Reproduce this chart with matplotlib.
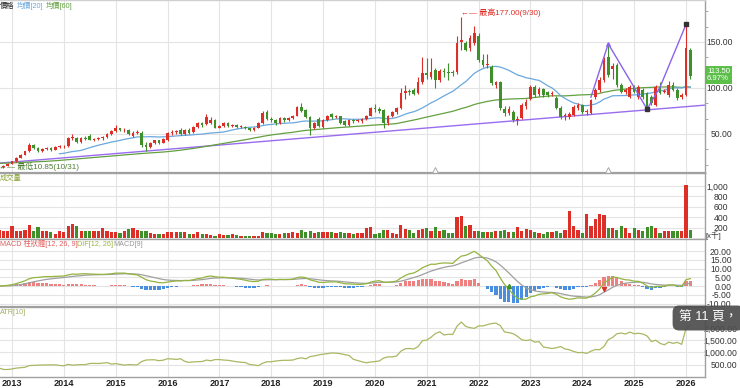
import numpy as np
import pandas as pd
import matplotlib
matplotlib.use('Agg')
import matplotlib.pyplot as plt
from matplotlib.ticker import MultipleLocator

plt.rcParams['font.family'] = ['Liberation Sans Narrow', 'Liberation Sans', 'Noto Sans CJK TC', 'DejaVu Sans']

# =========================
# Data (monthly, Oct 2012 .. Feb 2026); x = months since Jan 2013
# =========================
first_month = -3

opens = [12.0, 14.0, 15.5,
         17.5, 20.5, 24.0, 27.5, 31.0, 38.0, 35.0, 31.0, 34.0, 34.5, 33.0, 36.0,
         36.5, 37.0, 45.5, 46.0, 41.0, 46.0, 48.0, 44.0, 45.0, 46.0, 47.0, 50.0,
         53.0, 56.0, 54.0, 54.5, 48.0, 51.5, 51.0, 38.5, 36.0, 40.0, 43.0, 40.5,
         44.0, 51.0, 52.0, 54.0, 50.0, 54.0, 52.0, 58.0, 62.0, 61.0, 62.0, 65.0,
         57.0, 58.5, 62.0, 59.0, 60.0, 57.5, 58.0, 56.0, 54.0, 57.0, 62.0, 74.0,
         66.0, 65.0, 62.0, 67.0, 65.0, 67.0, 70.0, 79.0, 76.0, 68.0, 57.0, 66.0,
         58.0, 65.0, 72.0, 68.0, 69.0, 64.0, 60.0, 65.0, 64.0, 64.0, 66.0, 70.0,
         78.0, 77.0, 76.0, 62.0, 70.0, 74.0, 78.0, 95.0, 97.0, 98.0, 94.0, 106.0,
         116.0, 112.0, 119.0, 109.0, 118.0, 117.0, 117.0, 117.0, 150.0, 149.0, 143.0, 149.0,
         157.0, 130.0, 125.0, 123.0, 103.0, 106.0, 77.0, 73.0, 74.0, 65.0, 67.0, 80.0,
         88.0, 101.0, 93.0, 99.0, 96.0, 93.0, 89.0, 78.0, 69.0, 68.0, 71.0, 78.0,
         82.0, 74.0, 73.0, 90.0, 98.0, 109.0, 134.0, 121.0, 125.0, 103.0, 96.0, 90.0,
         101.0, 90.0, 98.0, 94.0, 90.0, 82.0, 101.0, 96.0, 92.0, 103.0, 98.0, 90.0,
         92.0, 141.0]
highs = [14.5, 16.0, 18.0,
         21.0, 25.0, 28.0, 32.0, 40.0, 39.0, 36.0, 34.5, 35.5, 35.5, 36.5, 37.5,
         38.0, 47.0, 50.0, 47.0, 47.0, 47.5, 50.0, 46.0, 47.0, 48.0, 51.0, 54.0,
         60.0, 57.0, 56.0, 55.0, 53.0, 54.0, 53.0, 41.0, 41.0, 44.0, 44.0, 46.0,
         52.0, 54.0, 54.0, 56.0, 55.0, 56.0, 59.0, 63.0, 63.0, 72.0, 68.0, 66.0,
         60.0, 63.0, 63.0, 61.0, 61.0, 60.0, 59.0, 57.0, 58.0, 63.0, 75.0, 76.0,
         68.0, 66.0, 68.0, 68.0, 68.0, 71.0, 80.0, 84.0, 77.0, 69.0, 63.0, 68.0,
         66.0, 71.0, 73.0, 71.0, 70.0, 65.0, 66.0, 66.0, 66.0, 67.0, 71.0, 79.0,
         83.0, 79.0, 77.0, 71.0, 75.0, 79.0, 100.0, 103.0, 99.0, 100.0, 112.0, 134.0,
         133.0, 133.0, 122.0, 121.0, 122.0, 127.0, 119.0, 157.0, 177.0, 151.0, 158.0, 167.0,
         160.0, 137.0, 137.0, 125.0, 108.0, 108.0, 80.0, 80.0, 76.0, 69.0, 84.0, 88.0,
         103.0, 103.0, 101.0, 100.0, 97.0, 97.0, 91.0, 80.0, 73.0, 74.0, 81.0, 84.0,
         83.0, 77.0, 88.0, 100.0, 112.0, 134.0, 148.0, 127.0, 127.0, 105.0, 100.0, 103.0,
         103.0, 103.0, 100.0, 96.0, 92.0, 103.0, 106.0, 99.0, 108.0, 106.0, 100.0, 95.0,
         169.0, 143.0]
lows = [10.85, 13.5, 15.0,
        17.0, 20.0, 23.5, 27.0, 30.5, 33.5, 30.0, 30.5, 33.0, 32.0, 32.5, 35.0,
        35.0, 36.0, 44.0, 40.0, 40.0, 43.5, 43.0, 42.0, 43.5, 44.0, 46.0, 49.0,
        52.0, 53.0, 52.0, 49.0, 47.0, 50.0, 36.0, 31.0, 35.0, 39.0, 39.5, 40.0,
        42.0, 49.0, 50.0, 49.0, 49.0, 50.0, 51.0, 57.0, 58.0, 60.0, 61.0, 56.0,
        56.0, 58.0, 58.0, 58.0, 56.0, 56.0, 55.0, 53.0, 53.0, 56.0, 61.0, 65.0,
        63.0, 60.0, 61.0, 63.0, 64.0, 66.0, 69.0, 74.0, 67.0, 49.0, 55.0, 58.0,
        56.0, 64.0, 66.0, 67.0, 61.0, 59.0, 59.0, 62.0, 63.0, 62.0, 65.0, 69.0,
        74.0, 73.0, 56.0, 60.0, 68.0, 72.0, 77.0, 88.0, 92.0, 92.0, 93.0, 104.0,
        110.0, 110.0, 100.0, 107.0, 112.0, 109.0, 113.0, 115.0, 141.0, 140.0, 140.0, 147.0,
        128.0, 123.0, 122.0, 103.0, 100.0, 76.0, 70.0, 71.0, 63.0, 60.0, 66.0, 77.0,
        87.0, 90.0, 91.0, 90.0, 90.0, 91.0, 77.0, 66.0, 65.0, 66.0, 70.0, 76.0,
        72.0, 71.0, 72.0, 88.0, 96.0, 107.0, 112.0, 110.0, 101.0, 94.0, 93.0, 89.0,
        94.0, 88.0, 88.0, 77.0, 82.0, 80.0, 93.0, 94.0, 90.0, 97.0, 87.0, 88.0,
        91.0, 110.0]
closes = [14.0, 15.5, 17.5,
          20.5, 24.0, 27.5, 31.0, 38.0, 35.0, 31.0, 34.0, 34.5, 33.0, 36.0, 36.5,
          37.0, 45.5, 46.0, 41.0, 46.0, 45.0, 44.0, 45.0, 46.0, 47.0, 50.0, 53.0,
          56.0, 54.0, 54.5, 50.5, 51.5, 52.0, 38.5, 36.0, 40.0, 43.0, 40.5, 45.0,
          51.0, 52.0, 52.5, 50.0, 54.0, 51.0, 58.0, 62.0, 60.0, 68.0, 65.0, 57.0,
          58.5, 62.0, 59.0, 60.0, 57.5, 58.0, 56.0, 54.0, 57.0, 62.0, 73.0, 66.0,
          65.0, 62.0, 67.0, 65.0, 67.0, 70.0, 79.0, 75.0, 68.0, 57.0, 62.0, 59.0,
          65.0, 70.0, 68.0, 69.0, 62.0, 60.0, 65.0, 64.0, 64.5, 66.0, 70.0, 78.0,
          77.0, 75.0, 62.0, 70.0, 74.0, 78.0, 95.0, 97.0, 96.0, 93.0, 106.0, 116.0,
          114.0, 117.0, 109.0, 118.0, 117.0, 116.5, 116.0, 149.0, 152.0, 141.0, 154.0, 160.0,
          130.0, 125.0, 125.5, 105.0, 106.0, 78.0, 73.0, 77.0, 65.0, 66.0, 81.0, 85.0,
          101.0, 92.0, 99.0, 92.0, 92.0, 94.0, 78.0, 68.0, 71.0, 72.0, 79.0, 82.0,
          74.0, 74.5, 87.0, 98.0, 109.0, 130.0, 114.0, 124.0, 103.0, 96.0, 98.0, 101.0,
          96.0, 101.0, 90.0, 79.0, 84.0, 101.0, 95.0, 96.5, 103.0, 98.0, 89.0, 92.0,
          143.0, 113.5]
volumes = [160, 141, 141,
           237, 128, 141, 160, 256, 141, 211, 128, 128, 109, 77, 128,
           109, 224, 275, 237, 141, 128, 128, 141, 141, 192, 128, 109,
           109, 96, 141, 173, 192, 160, 141, 128, 96, 77, 77, 77,
           109, 109, 109, 109, 109, 77, 77, 109, 77, 77, 64, 45,
           77, 64, 64, 77, 64, 45, 45, 45, 45, 45, 122, 96,
           96, 77, 77, 96, 96, 122, 96, 147, 109, 134, 96, 109,
           122, 122, 122, 96, 122, 96, 96, 77, 96, 96, 192, 210,
           83, 96, 159, 147, 96, 76, 255, 172, 147, 96, 147, 172,
           191, 127, 210, 127, 159, 96, 96, 395, 414, 236, 248, 127,
           127, 108, 108, 108, 127, 127, 159, 121, 121, 210, 127, 172,
           159, 121, 96, 83, 108, 121, 134, 96, 147, 510, 236, 147,
           96, 459, 223, 369, 459, 446, 191, 191, 147, 223, 191, 96,
           185, 147, 134, 210, 236, 191, 96, 127, 134, 140, 134, 127,
           1019, 159]
# MA60 before a full 60-month window exists
ma60_early = [18.0, 18.2, 18.3,
              18.5, 18.7, 18.9, 19.1, 19.3, 19.6, 19.8, 20.0, 20.3, 20.6, 20.9, 21.3,
              21.7, 22.1, 22.5, 22.9, 23.3, 23.7, 24.1, 24.5, 24.9, 25.3, 25.7, 26.1,
              26.6, 27.0, 27.4, 27.8, 28.2, 28.5, 28.8, 29.1, 29.4, 29.7, 30.0, 30.4,
              30.8, 31.3, 31.8, 32.4, 33.0, 33.6, 34.3, 35.0, 35.8, 36.6, 37.4, 38.2,
              39.0, 39.8, 40.6, 41.4, 42.2, 43.0, 43.8, 44.6]

years = list(range(2013, 2027))
year_labels = [str(y) for y in years]

trend_x = [-3, 161]
trend_y = [18.3, 81.6]
zigzag_x = [134, 138, 147, 150, 156]
zigzag_y = [90.0, 148.0, 77.0, 101.0, 169.0]
event_months = [98, 138]
cross_months = [115, 137]
cross_values = [0.0, -1.9]

# =========================
# Style
# =========================
RED = '#dc2f27'
GREEN = '#3f8f2a'
BLUE_MA = '#6aa8de'
GREEN_MA = '#63a040'
PURPLE = '#9a6cf0'
GRID = '#e4e4e4'
FRAME = '#a0a0a0'

W, H = 740, 388


def box(top, bottom, left=0, right=705):
    return [left / W, 1 - bottom / H, (right - left) / W, (bottom - top) / H]


fig = plt.figure(figsize=(W / 100, H / 100), dpi=100)
ax_p = fig.add_axes(box(0, 173))
ax_v = fig.add_axes(box(173, 239), sharex=ax_p)
ax_m = fig.add_axes(box(239, 307), sharex=ax_p)
ax_a = fig.add_axes(box(307, 377), sharex=ax_p)

n = len(closes)
x = np.arange(n) + first_month
o = np.array(opens)
h = np.array(highs)
l = np.array(lows)
c = np.array(closes)
up = c >= o
bar_colors = np.where(up, RED, GREEN)

# indicators
s = pd.Series(c)
ma20 = s.rolling(20, min_periods=15).mean()
ma60 = s.rolling(60).mean()
ma60.iloc[:len(ma60_early)] = ma60_early
ema12 = s.ewm(span=12, adjust=False).mean()
ema26 = s.ewm(span=26, adjust=False).mean()
dif = ema12 - ema26
sig = dif.ewm(span=9, adjust=False).mean()
hist = dif - sig
prev_c = s.shift(1)
tr = pd.concat([pd.Series(h - l), (pd.Series(h) - prev_c).abs(),
                (pd.Series(l) - prev_c).abs()], axis=1).max(axis=1)
atr = tr.rolling(10, min_periods=1).mean() * 100

# =========================
# Price panel
# =========================
ax_p.plot(trend_x, trend_y, color=PURPLE, lw=1.0, zorder=2)
ax_p.plot(x, ma60, color=GREEN_MA, lw=0.9, zorder=2)
ax_p.plot(x, ma20, color=BLUE_MA, lw=0.9, zorder=2)
ax_p.vlines(x, l, h, colors=bar_colors, lw=0.8, zorder=3)
ax_p.bar(x, np.maximum(np.abs(c - o), 0.8), bottom=np.minimum(o, c), width=0.62,
         color=bar_colors, linewidth=0, zorder=4)
ax_p.plot(zigzag_x, zigzag_y, color='#8a63ee', lw=1.0, zorder=5)
ax_p.plot(zigzag_x[2::2], zigzag_y[2::2], 's', ms=2.6, color='#333333', zorder=6)
ax_p.plot(zigzag_x[1], zigzag_y[1], '^', ms=2.6, color='#8a63ee', zorder=6)
ax_p.plot(event_months, [10.5] * len(event_months), '^', ms=4, mfc='white',
          mec='#aaaaaa', mew=0.7, zorder=6, clip_on=False)

ax_p.text(104, 181.5, '←— 最高177.00(9/30)', color=RED, fontsize=5.8, va='center', ha='left')
ax_p.text(-3, 14.8, '←— 最低10.85(10/31)', color='#4e7d33', fontsize=5.8, va='center',
          ha='left', clip_on=False)

ax_p.set_ylim(7.6, 195.6)
ax_p.set_yticks([50, 100, 150])
ax_p.set_yticklabels(['50.00', '100.00', '150.00'])
ax_p.yaxis.set_minor_locator(MultipleLocator(50 / 3))

# =========================
# Volume panel
# =========================
ax_v.bar(x, volumes, width=0.74, color=bar_colors, linewidth=0)
ax_v.set_ylim(-19, 1250)
ax_v.set_yticks([200, 400, 600, 800, 1000])
ax_v.set_yticklabels(['200', '400', '600', '800', '1,000'])

# =========================
# MACD panel
# =========================
ax_m.bar(x, hist, width=0.75, color=np.where(hist >= 0, '#ef8080', '#4a8edf'), linewidth=0)
ax_m.plot(x, sig, color='#a0a0a0', lw=0.9)
ax_m.plot(x, dif, color='#94b43e', lw=0.9)
ax_m.plot(cross_months[:1], cross_values[:1], '^', ms=3, color='#3f8f2a')
ax_m.plot(cross_months[1:], cross_values[1:], 'v', ms=3, color=RED)
ax_m.set_ylim(-12, 26.9)
ax_m.set_yticks([-10, -5, 0, 5, 10, 15, 20])
ax_m.set_yticklabels(['-10.00', '-5.00', '0.00', '5.00', '10.00', '15.00', '20.00'])

# =========================
# ATR panel
# =========================
ax_a.plot(x, atr, color='#a9b862', lw=0.9)
ax_a.set_ylim(0, 2850)
ax_a.set_yticks([500, 1000, 1500, 2000])
ax_a.set_yticklabels(['500.00', '1,000.00', '1,500.00', '2,000.00'])

# =========================
# Common axes styling
# =========================
year_ticks = [(y - 2013) * 12 for y in years]
pads = {ax_p: 20.0, ax_v: 17.0, ax_m: 19.2, ax_a: 23.5}
for ax in [ax_p, ax_v, ax_m, ax_a]:
    ax.set_xlim(-2.78, 160.4)
    ax.yaxis.tick_right()
    ax.tick_params(axis='y', which='major', length=0, pad=pads[ax], labelsize=6.2,
                   colors='#333333')
    ax.tick_params(axis='y', which='minor', length=2, color='#999999')
    for lab in ax.get_yticklabels():
        lab.set_horizontalalignment('right')
    ax.set_xticks(year_ticks)
    ax.grid(True, color=GRID, lw=0.8)
    ax.set_axisbelow(True)
    ax.spines['left'].set_visible(False)
    for sp in ['top', 'bottom', 'right']:
        ax.spines[sp].set_color(FRAME)
        ax.spines[sp].set_linewidth(1.0)
    ax.set_facecolor('white')

for ax in [ax_p, ax_v, ax_m]:
    ax.tick_params(axis='x', length=0, labelbottom=False)
ax_p.spines['top'].set_color('#d0d0d0')
ax_p.spines['bottom'].set_linewidth(1.6)
ax_m.spines['bottom'].set_linewidth(1.6)

ax_a.set_xticklabels(year_labels)
ax_a.tick_params(axis='x', length=0, pad=1.5, labelsize=6.6, colors='#222222')
for lab in ax_a.get_xticklabels():
    lab.set_fontweight('bold')

ax_v.text(1.0, -0.02, '[x千]', transform=ax_v.transAxes, fontsize=5.5, color='#333333',
          ha='left', va='bottom')

# =========================
# Panel titles
# =========================
def fx(px):
    return px / W


def fy(py):
    return 1 - py / H


fig.text(fx(0), fy(6), '價格', fontsize=5.2, color='#222222', va='center')
fig.text(fx(17), fy(6), '均價[20]', fontsize=5.2, color=BLUE_MA, va='center')
fig.text(fx(46), fy(6), '均價[60]', fontsize=5.2, color=GREEN_MA, va='center')
fig.text(fx(0), fy(178), '成交量', fontsize=5.2, color='#8aa236', va='center')
fig.text(fx(0), fy(244), 'MACD 柱狀體[12, 26, 9]', fontsize=5.2, color='#e06060', va='center')
fig.text(fx(77), fy(244), 'DIF[12, 26]', fontsize=5.2, color='#94b43e', va='center')
fig.text(fx(113), fy(244), 'MACD[9]', fontsize=5.2, color='#999999', va='center')
fig.text(fx(0), fy(313), 'ATR[10]', fontsize=5.2, color='#a0b060', va='center')

# last price tag
fig.text(fx(707), fy(75), '113.50\n6.97%', fontsize=5.6, color='white', va='center', ha='left',
         linespacing=1.1,
         bbox=dict(boxstyle='square,pad=0.25', fc='#5cbf4a', ec='none'))

# page overlay
fig.text(fx(679), fy(318), '第 11 頁，', fontsize=9.2, color='white', va='center', ha='left',
         bbox=dict(boxstyle='round,pad=0.5,rounding_size=0.5', fc='#4d4d4d', ec='none', alpha=0.92))

fig.savefig('out.png', dpi=100, facecolor='white')
